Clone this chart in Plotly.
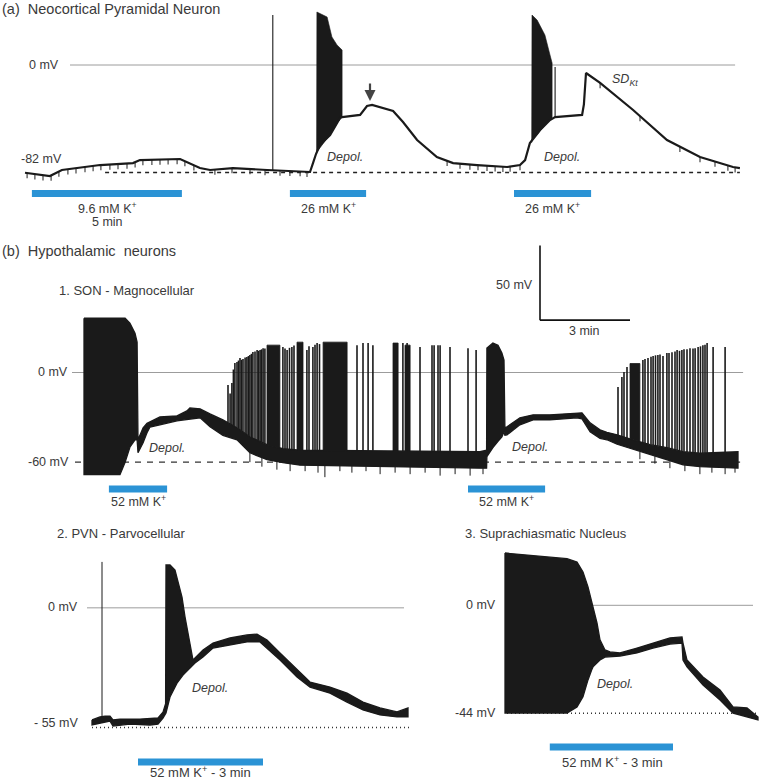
import numpy as np
import plotly.graph_objects as go

W, H = 759, 781
TRACE = "#1a1a1a"
TXT = "#3a3a3a"
GRID = "#9c9c9c"
BLUE = "#2b93d5"
FONT = "Liberation Sans, Arial, Helvetica, sans-serif"

# ---------------- (a) Neocortical pyramidal neuron : time (min), Vm (mV)
a_t = [0, 0.4, 0.83, 1.23, 1.73, 2.5, 3.6, 3.83, 5.17, 5.4, 5.83, 6.17, 6.93, 8.07, 9.17,
       9.5, 9.6, 9.7, 9.83, 10.17, 10.5, 10.57, 11.17, 11.4, 11.57, 12.27, 12.6, 13.07, 13.73,
       14.27, 15.07, 16.07, 16.5, 16.67, 16.83, 17.17, 17.5, 17.67, 18.57, 18.63, 18.7, 19.17,
       20.27, 21.4, 22.5, 23.6, 23.83]
a_v = [-82.2, -83.5, -84.7, -80.1, -78.6, -76.3, -74.8, -72.5, -71.7, -74, -78.6, -80.1, -78.6,
       -80.1, -80.9, -81.6, -74.8, -67.9, -61, -53.4, -40.4, -39.7, -38.1, -31.3, -30.5, -35.1,
       -43.5, -57.2, -70.2, -74.8, -76.3, -77.8, -76.3, -72.5, -59.5, -49.6, -42, -39.7, -38.1,
       -30, -6.1, -13.7, -34.3, -57.2, -70.2, -77.8, -78.6]
a_burst1_t = [9.72, 9.73, 10.07, 10.23, 10.4, 10.57]
a_burst1_top = [-67, 40.4, 36.6, 21.4, 15.3, 11.4]
a_burst2_t = [16.89, 16.9, 17.07, 17.33, 17.5, 17.57]
a_burst2_top = [-59, 38.1, 34.3, 22.9, 7.6, 1.5]
a_spike_t = [8.26, 17.67]          # stimulus artefact and last spike
a_spike_peak = [38.1, -1.5]
a_tick_t = [0.07, 0.33, 0.6, 0.87, 1.13, 1.43, 1.7, 2.0, 2.27, 2.53, 2.83, 3.1, 3.4, 3.67,
            3.93, 4.23, 4.5, 4.77, 5.07, 5.33, 5.63, 6.33, 6.9, 7.5, 8.0, 8.5, 8.83, 9.17, 9.4,
            14.07, 14.5, 14.83, 15.1, 15.4, 15.67, 15.93, 16.17, 16.5, 19.17, 20.5, 21.83,
            22.5, 23.0, 23.43, 23.67]
a_tick_depth = 4.0
a_bar_t0 = [0.23, 8.83, 16.3]
a_bar_t1 = [5.23, 11.37, 18.87]
a_bar_labels = ["9.6 mM K<sup>+</sup>", "26 mM K<sup>+</sup>", "26 mM K<sup>+</sup>"]

# ---------------- (b1) SON magnocellular
b1_t = [0, 1.2, 1.37, 1.53, 1.7, 1.77, 1.8, 1.97, 2.1, 2.2, 2.53, 3.1, 3.43, 3.53, 3.87, 4.2,
        4.63, 5.1, 5.53, 6.1, 6.63, 7.2, 13.2, 13.42, 13.43, 13.63, 13.8, 13.93, 14.0, 14.03,
        14.1, 14.53, 14.97, 15.53, 16.43, 16.6, 16.87, 17.2, 17.43, 17.77, 18.3, 18.87, 19.43,
        19.97, 20.53, 21.8]
b1_upper = [36.3, 36.3, 36.3, 33, 26.3, 20.3, -45, -37, -34, -33, -29.7, -29, -25.7, -23.7,
            -24.3, -27.7, -31.7, -37, -43, -48.3, -51, -52, -53, -52, 16.3, 19.7, 18.3, 13, 8.3,
            -37, -36.3, -30.3, -28.3, -28.3, -27, -27, -33.7, -38.3, -40, -41.7, -45, -48.3,
            -50.3, -53, -54, -53]
b1_lower = [-68.3, -68.3, -60, -50, -45, -45, -53.7, -47, -40.3, -36.5, -35, -32.3, -31.5, -31,
            -30.3, -36.3, -42, -45, -53.7, -58.3, -60.3, -62, -64, -64, -56.3, -50.3, -46, -43,
            -39.7, -42, -41.7, -35, -31.7, -31.7, -30.3, -31, -39.7, -44, -45, -48, -51.7, -55,
            -58.3, -61.7, -63, -64]
b1_spike_t = [4.8, 4.87, 4.93, 4.98, 5.03, 5.1, 5.15, 5.2, 5.25, 5.3, 5.37, 5.43, 5.48, 5.53,
              5.58, 5.63, 5.7, 5.77, 5.82, 5.87, 5.92, 5.97, 6.03, 6.63, 6.7, 6.77, 6.85, 6.93,
              7.0, 7.43, 7.5, 7.63, 7.7, 7.77, 7.85, 9.1, 9.3, 9.47, 9.63, 10.63, 10.77, 11.2,
              11.6, 11.67, 11.8, 11.87, 12.2, 12.8, 13.07, 17.8, 17.93, 18.0, 18.1, 18.63, 18.7,
              18.8, 18.9, 18.97, 19.05, 19.13, 19.2, 19.3, 19.43, 19.5, 19.6, 19.7, 19.77, 19.85,
              19.93, 20.0, 20.1, 20.2, 20.3, 20.37, 20.47, 20.55, 20.63, 20.7, 20.77, 20.97,
              21.37]
b1_spike_peak = [-8.3, -14, -7, 2, 6.3, 7, 8, 9.7, 8.5, 9, 10, 10.3, 11, 11.7, 12.5, 13.7, 14,
                 15, 14.5, 15, 15.5, 16.3, 16, 17, 16, 15, 16.5, 17, 18, 15, 17.5, 17, 18.5,
                 19.7, 19, 18.3, 19.7, 19.7, 18.3, 19.7, 19.7, 17, 18.3, 18.3, 18.3, 18.3, 17,
                 16.3, 15, -9.7, -3, 0.3, 3.7, 8.3, 9, 9.7, 10.5, 11, 11.5, 11.7, 12, 11, 13, 13,
                 13.5, 14, 15, 14.5, 15, 15.5, 15.5, 16.3, 16, 16.3, 17, 17.5, 18.3, 18.5, 19.7,
                 17, 17]
b1_cluster_t0 = [6.1, 7.1, 7.97, 10.3, 10.7, 18.2]
b1_cluster_t1 = [6.53, 7.3, 8.77, 10.47, 10.87, 18.53]
b1_cluster_peak = [18.3, 20.3, 20.3, 19.7, 18.3, 6]
b1_noise_t = [5.53, 5.93, 6.43, 6.87, 7.37, 7.8, 8.03, 8.53, 8.93, 9.4, 9.87, 10.37, 10.87,
              11.37, 11.87, 12.37, 12.87, 13.3, 18.53, 19.03, 19.53, 20.03, 20.53, 20.93,
              21.37, 21.7]
b1_noise_min = [-60, -63, -65, -66, -66, -67, -70, -66, -67, -66, -68, -67, -68, -67, -69, -68,
                -69, -68, -58, -61, -64, -66, -68, -67, -68, -67]
b1_bar_t0 = [0.83, 12.8]
b1_bar_t1 = [2.77, 15.37]

# ---------------- (b2) PVN parvocellular
b2_up_t = [0, 0.2, 0.325, 0.45, 0.525, 0.7, 1.2, 1.65, 1.775, 1.84, 1.85, 1.95, 2.075, 2.15,
           2.25, 2.325, 2.4, 2.5, 2.525, 2.775, 3.025, 3.45, 3.875, 4.125, 4.375, 4.7, 5.125,
           5.45, 5.95, 6.375, 6.775, 7.2, 7.625, 7.9]
b2_up_v = [-51.5, -50.1, -49.7, -49.7, -51.5, -51.1, -51.1, -50.6, -47.9, -44, 19.6, 19.6, 17.3,
           11.8, 4.9, -4.2, -11.6, -22.6, -24, -19.4, -16.2, -13.9, -12.5, -12.1, -14.8, -20.8,
           -28.6, -34.1, -36.4, -39.2, -43.3, -46, -47.8, -46]
b2_lo_t = [0, 0.2, 0.45, 0.525, 0.95, 1.45, 1.65, 1.775, 1.85, 1.95, 2.125, 2.275, 2.45, 2.575,
           2.775, 3.025, 3.45, 3.875, 4.2, 4.7, 5.125, 5.45, 5.95, 6.375, 6.775, 7.2, 7.625, 7.9]
b2_lo_v = [-53.8, -52.9, -52, -54.3, -53.4, -53.8, -53.4, -50.6, -48.3, -41, -34.6, -30.9,
           -27.7, -25.4, -22.6, -18.5, -17.1, -15.7, -15.7, -24, -31.8, -36.4, -39.2, -43.3,
           -46.9, -49.2, -50.1, -50.1]
b2_spike_t = [0.25]
b2_spike_peak = [21]
b2_bar = [1.15, 4.275]

# ---------------- (b3) Suprachiasmatic nucleus
b3_t = [0, 1.45, 1.55, 1.8, 1.95, 2.075, 2.175, 2.2, 2.3, 2.375, 2.5, 2.625, 2.875, 3.3, 3.7,
        4.125, 4.425, 4.45, 4.55, 4.95, 5.375, 5.7, 6.05, 6.325]
b3_upper = [21.3, 19.3, 19, 17.6, 13.6, 7.5, 0.9, -1.5, -7.2, -14.1, -18.2, -19, -19.4, -17.4,
            -15.4, -13.3, -12.9, -15.4, -22.3, -29.2, -34.5, -41.4, -41.8, -45.5]
b3_lower = [-43.9, -43.9, -43.9, -41.4, -37.3, -30.4, -26, -25.1, -23.5, -22.3, -21.1, -21.1,
            -20.7, -19.4, -17.4, -15.8, -15.4, -22.3, -25.1, -32.5, -38.6, -43.9, -45.5, -46.7]
b3_bar = [1.12, 4.2]

# ================= layout helpers (pixel placement of each panel)
def pp(px, py):
    return px / W, 1 - py / H

def x_axis(px0, px_per_min):
    return dict(domain=[0, 1], range=[-px0 / px_per_min, (W - px0) / px_per_min],
                visible=False, fixedrange=True)

def y_axis(p_top, p_bot, p_zero, px_per_mv):
    return dict(domain=[1 - p_bot / H, 1 - p_top / H],
                range=[(p_zero - p_bot) / px_per_mv, (p_zero - p_top) / px_per_mv],
                visible=False, fixedrange=True)

AX = {"a": ("x", "y"), "b1": ("x2", "y2"), "b2": ("x3", "y3"), "b3": ("x4", "y4")}

fig = go.Figure()

def add_line(panel, xs, ys, color=TRACE, width=1.5, dash=None):
    xa, ya = AX[panel]
    fig.add_trace(go.Scatter(x=xs, y=ys, xaxis=xa, yaxis=ya, mode="lines",
                             line=dict(color=color, width=width, dash=dash),
                             hoverinfo="skip", showlegend=False))

def add_poly(panel, xs, ys, width=0.8):
    xa, ya = AX[panel]
    fig.add_trace(go.Scatter(x=list(xs) + [xs[0]], y=list(ys) + [ys[0]], xaxis=xa, yaxis=ya,
                             mode="lines", fill="toself", fillcolor=TRACE,
                             line=dict(color=TRACE, width=width),
                             hoverinfo="skip", showlegend=False))

def add_band(panel, tu, vu, tl, vl, width=1.3):
    add_poly(panel, list(tu) + list(tl)[::-1], list(vu) + list(vl)[::-1], width)

def add_spikes(panel, ts, bases, peaks, width=1.2, color=TRACE):
    xs, ys = [], []
    for t, b, p in zip(ts, bases, peaks):
        xs += [t, t, None]
        ys += [b, p, None]
    add_line(panel, xs, ys, color=color, width=width)

# ---- reference lines (0 mV and resting potential)
add_line("a", [1.5, 23.67], [0, 0], GRID, 1)
add_line("a", [2.67, 23.83], [-82, -82], "#222", 1.5, "4px,4px")
add_line("b1", [-0.4, 21.97], [0, 0], GRID, 1)
add_line("b1", [-0.3, 21.87], [-60, -60], "#333", 1.3, "6px,6px")
add_line("b2", [-0.125, 7.8], [0, 0], "#bdbdbd", 1.5)
add_line("b2", [0, 7.95], [-55, -55], "#333", 1.5, "1px,3px")
add_line("b3", [2.0, 6.2], [0, 0], GRID, 1)
add_line("b3", [0.05, 6.3], [-44, -44], "#333", 1.5, "1px,3px")

# ---- panel (a)
add_poly("a", a_burst1_t + a_burst1_t[::-1],
         a_burst1_top + list(np.interp(a_burst1_t[::-1], a_t, a_v)), width=0.6)
add_poly("a", a_burst2_t + a_burst2_t[::-1],
         a_burst2_top + list(np.interp(a_burst2_t[::-1], a_t, a_v)), width=0.6)
add_spikes("a", a_spike_t, np.interp(a_spike_t, a_t, a_v), a_spike_peak, width=1.1)
a_tick_base = np.interp(a_tick_t, a_t, a_v)
add_spikes("a", a_tick_t, a_tick_base, a_tick_base - a_tick_depth, width=1.1, color="#333")
add_line("a", a_t, a_v, TRACE, 2.2)

# ---- panel (b1)
add_band("b1", b1_t, b1_upper, b1_t, b1_lower)
for t0, t1, pk in zip(b1_cluster_t0, b1_cluster_t1, b1_cluster_peak):
    add_poly("b1", [t0, t0, t1, t1],
             [np.interp(t0, b1_t, b1_upper), pk, pk, np.interp(t1, b1_t, b1_upper)], width=0.8)
add_spikes("b1", b1_spike_t, np.interp(b1_spike_t, b1_t, b1_upper), b1_spike_peak, width=1.6)
add_spikes("b1", b1_noise_t, np.interp(b1_noise_t, b1_t, b1_lower), b1_noise_min, width=1.0)

# ---- panel (b2)
add_band("b2", b2_up_t, b2_up_v, b2_lo_t, b2_lo_v)
add_spikes("b2", b2_spike_t, np.interp(b2_spike_t, b2_lo_t, b2_lo_v), b2_spike_peak, width=1.0)

# ---- panel (b3)
add_band("b3", b3_t, b3_upper, b3_t, b3_lower)

# ---- shapes: K+ application bars and scale bar
shapes = []
def bar(xref, t0, t1, py, h=3.5):
    shapes.append(dict(type="rect", xref=xref, yref="paper", x0=t0, x1=t1,
                       y0=1 - (py + h) / H, y1=1 - (py - h) / H,
                       fillcolor=BLUE, line=dict(width=0), layer="above"))

for t0, t1 in zip(a_bar_t0, a_bar_t1):
    bar("x", t0, t1, 193.5)
for t0, t1 in zip(b1_bar_t0, b1_bar_t1):
    bar("x2", t0, t1, 489)
bar("x3", b2_bar[0], b2_bar[1], 762)
bar("x4", b3_bar[0], b3_bar[1], 747)

# scale bar 50 mV / 3 min drawn in panel b1 coordinates
sb_t, sb_v = 15.2, 35
shapes.append(dict(type="line", xref="x2", yref="y2", x0=sb_t, x1=sb_t, y0=sb_v, y1=sb_v + 50,
                   line=dict(color="#111", width=1.6)))
shapes.append(dict(type="line", xref="x2", yref="y2", x0=sb_t, x1=sb_t + 3, y0=sb_v, y1=sb_v,
                   line=dict(color="#111", width=1.6)))

# ---- text
ann = []
def txt(text, px, py, size=12.5, anchor="left", italic=False, color=TXT):
    x, y = pp(px, py)
    if italic:
        text = "<i>" + text + "</i>"
    ann.append(dict(text=text, x=x, y=y, xref="paper", yref="paper", xanchor=anchor,
                    yanchor="middle", showarrow=False, font=dict(size=size, color=color,
                                                                   family=FONT)))

NB = "\u00a0"
txt("(a)" + NB * 2 + "Neocortical Pyramidal Neuron", 0, 9, 14.5)
txt("0 mV", 61, 65, 12.5, "right")
txt("-82 mV", 64, 159, 12.5, "right")
txt("Depol.", 325, 157, 12.5, italic=True)
txt("Depol.", 542, 157, 12.5, italic=True)
txt("SD<sub>Kt</sub>", 610, 80, 12.5, italic=True)
txt(a_bar_labels[0], 107, 208, 12.5, "center")
txt("5 min", 107, 222, 12.5, "center")
txt(a_bar_labels[1], 328, 208, 12.5, "center")
txt(a_bar_labels[2], 552, 208, 12.5, "center")

txt("(b)" + NB * 2 + "Hypothalamic" + NB * 2 + "neurons", 0, 251, 14.5)
txt("1. SON - Magnocellular", 57, 290, 13)
txt("0 mV", 70, 372, 12.5, "right")
txt("-60 mV", 71, 462, 12.5, "right")
txt("50 mV", 535, 285, 12.5, "right")
txt("3 min", 584, 331, 12.5, "center")
txt("Depol.", 147, 448, 12.5, italic=True)
txt("Depol.", 510, 447, 12.5, italic=True)
txt("52 mM K<sup>+</sup>", 138, 501, 12.5, "center")
txt("52 mM K<sup>+</sup>", 506, 501, 12.5, "center")

txt("2. PVN - Parvocellular", 55, 533, 13)
txt("0 mV", 80, 607, 12.5, "right")
txt("- 55 mV", 80, 723, 12.5, "right")
txt("Depol.", 190, 688, 12.5, italic=True)
txt("52 mM K<sup>+</sup> - 3 min", 200, 772, 13, "center")

txt("3. Suprachiasmatic Nucleus", 463, 533, 13)
txt("0 mV", 498, 605, 12.5, "right")
txt("-44 mV", 498, 713, 12.5, "right")
txt("Depol.", 595, 684, 12.5, italic=True)
txt("52 mM K<sup>+</sup> - 3 min", 612, 762, 13, "center")

# arrow marking secondary depolarisation in (a)
ann.append(dict(x=11.5, y=-27.5, xref="x", yref="y", ax=0, ay=-19, axref="pixel",
                ayref="pixel", showarrow=True, arrowhead=2, arrowsize=1, arrowwidth=2.2,
                arrowcolor="#444", text=""))

fig.update_layout(
    width=W, height=H, margin=dict(l=0, r=0, t=0, b=0),
    paper_bgcolor="white", plot_bgcolor="rgba(0,0,0,0)", showlegend=False,
    font=dict(family=FONT, color=TXT),
    xaxis=x_axis(25, 30), yaxis=y_axis(0, 232, 65, 1.311),
    xaxis2=x_axis(84, 30), yaxis2=y_axis(236, 512, 372.5, 1.495),
    xaxis3=x_axis(92, 40), yaxis3=y_axis(515, 781, 607.7, 2.18),
    xaxis4=x_axis(505, 40), yaxis4=y_axis(515, 781, 605.3, 2.4545),
    shapes=shapes, annotations=ann,
)
fig.update_layout(xaxis2_anchor="y2", yaxis2_anchor="x2", xaxis3_anchor="y3",
                  yaxis3_anchor="x3", xaxis4_anchor="y4", yaxis4_anchor="x4")

fig.write_html("out.html", config={"displayModeBar": False, "staticPlot": True},
               post_script="document.body.style.margin='0';document.body.style.overflow='hidden';")
